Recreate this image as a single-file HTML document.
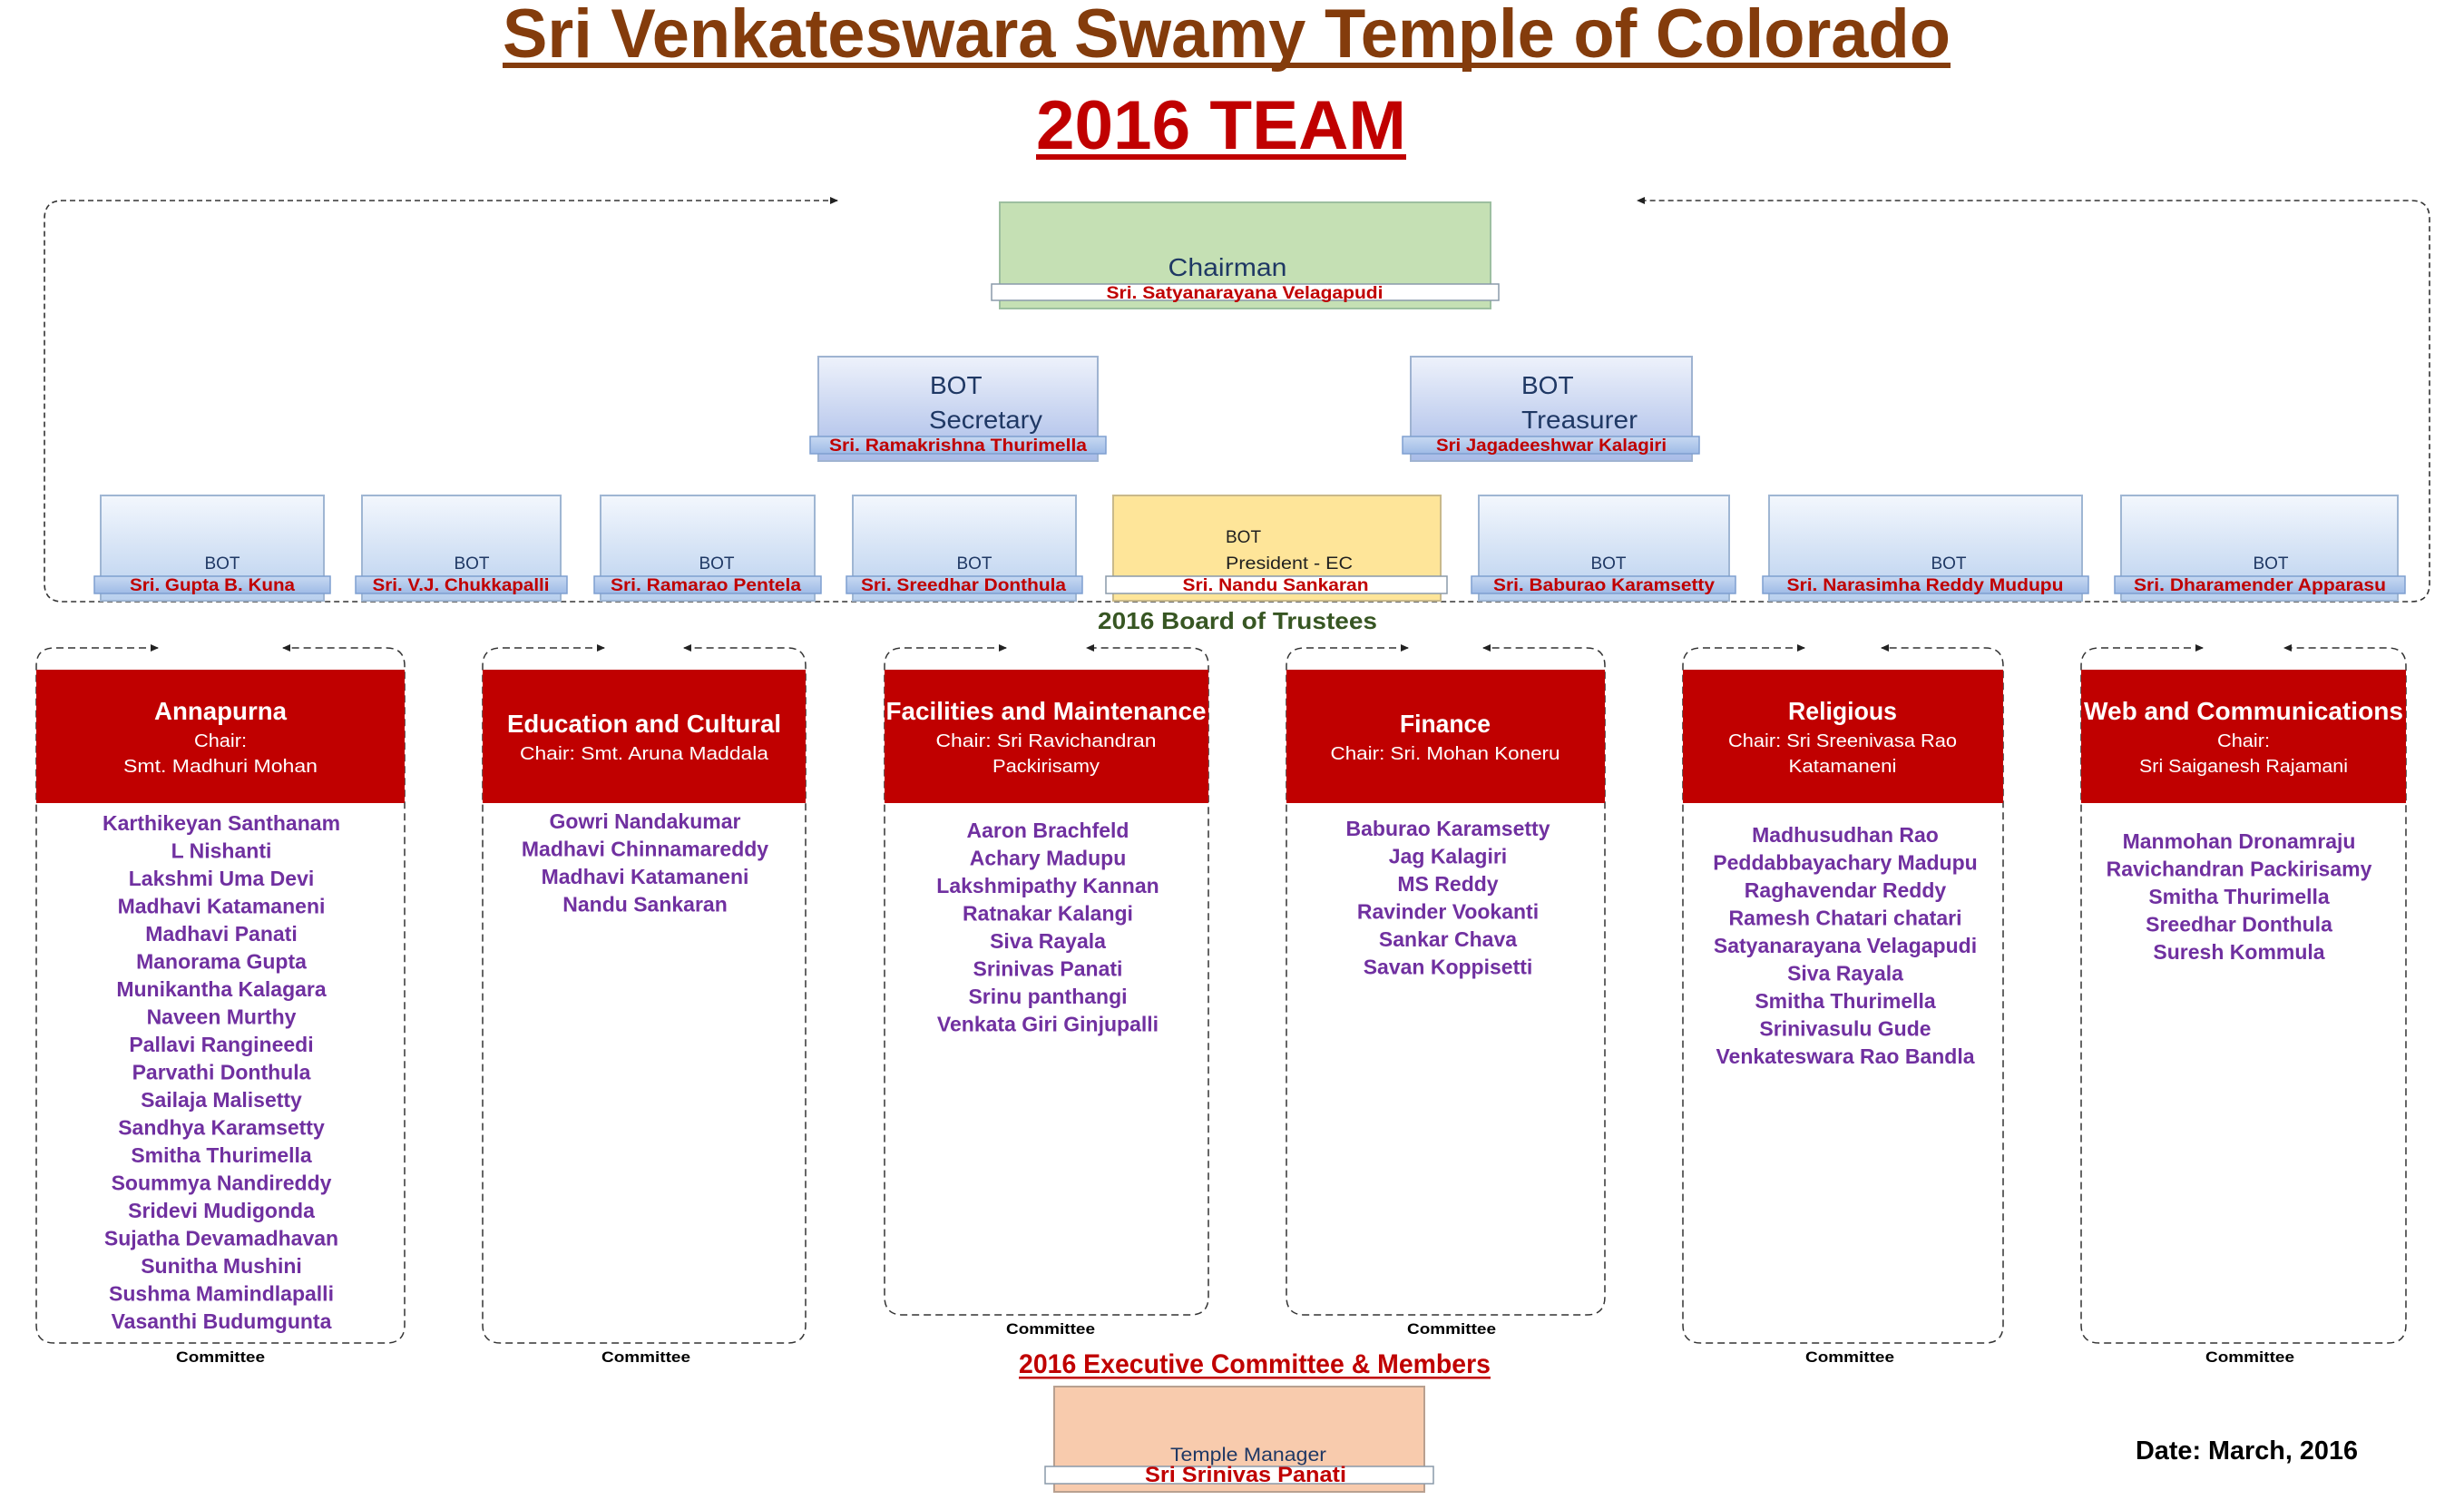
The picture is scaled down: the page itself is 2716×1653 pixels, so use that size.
<!DOCTYPE html>
<html><head><meta charset="utf-8"><style>html,body{margin:0;padding:0;background:#fff}svg{display:block}</style></head>
<body>
<svg width="2716" height="1653" viewBox="0 0 2716 1653" xmlns="http://www.w3.org/2000/svg" font-family="Liberation Sans, sans-serif" font-weight="bold">
<defs>
<linearGradient id="gb" x1="0" y1="0" x2="0" y2="1"><stop offset="0" stop-color="#f3f7fd"/><stop offset="1" stop-color="#b9d0ee"/></linearGradient>
<linearGradient id="gs" x1="0" y1="0" x2="0" y2="1"><stop offset="0" stop-color="#eef2fb"/><stop offset="1" stop-color="#a9bce8"/></linearGradient>
<linearGradient id="gbar" x1="0" y1="0" x2="0" y2="1"><stop offset="0" stop-color="#c7d9f2"/><stop offset="1" stop-color="#9fbbe6"/></linearGradient>
<marker id="ar" markerWidth="10" markerHeight="10" refX="8" refY="5" orient="auto" markerUnits="userSpaceOnUse"><path d="M0,1 L9,5 L0,9 z" fill="#222"/></marker>
</defs>

<text x="554" y="63" font-size="76" fill="#843c0c" textLength="1596" lengthAdjust="spacingAndGlyphs">Sri Venkateswara Swamy Temple of Colorado</text>
<rect x="554" y="69" width="1596" height="6" fill="#843c0c"/>
<text x="1142" y="164" font-size="76" fill="#c00000" textLength="408" lengthAdjust="spacingAndGlyphs">2016 TEAM</text>
<rect x="1142" y="170" width="408" height="6" fill="#c00000"/>

<path d="M923,221 L69,221 Q49,221 49,241 L49,643 Q49,663 69,663 L2658,663 Q2678,663 2678,643 L2678,241 Q2678,221 2658,221 L1805,221" fill="none" stroke="#333" stroke-width="1.6" stroke-dasharray="6,4" marker-end="url(#ar)"/>
<path d="M69,221 L923,221" fill="none" stroke="none" marker-end="url(#ar)"/>

<rect x="1102" y="223" width="541" height="117" fill="#c5e0b4" stroke="#9dbfa0" stroke-width="2"/>
<text x="1353" y="304" font-size="28" font-weight="normal" fill="#1f3864" text-anchor="middle" textLength="131" lengthAdjust="spacingAndGlyphs">Chairman</text>
<rect x="1093" y="313" width="559" height="18" fill="#fff" stroke="#8a9aaa" stroke-width="1.5"/>
<text x="1372" y="329" font-size="19" fill="#c00000" text-anchor="middle" textLength="305" lengthAdjust="spacingAndGlyphs">Sri. Satyanarayana Velagapudi</text>

<rect x="902" y="393" width="308" height="115" fill="url(#gs)" stroke="#9fb3d1" stroke-width="2"/>
<text x="1025" y="434" font-size="28" font-weight="normal" fill="#1f3864">BOT</text>
<text x="1024" y="472" font-size="28" font-weight="normal" fill="#1f3864" textLength="125" lengthAdjust="spacingAndGlyphs">Secretary</text>
<rect x="893" y="481" width="326" height="19" fill="url(#gbar)" stroke="#7f9fd0" stroke-width="1.5"/>
<text x="1056" y="497" font-size="19" fill="#c00000" text-anchor="middle" textLength="284" lengthAdjust="spacingAndGlyphs">Sri. Ramakrishna Thurimella</text>

<rect x="1555" y="393" width="310" height="115" fill="url(#gs)" stroke="#9fb3d1" stroke-width="2"/>
<text x="1677" y="434" font-size="28" font-weight="normal" fill="#1f3864">BOT</text>
<text x="1677" y="472" font-size="28" font-weight="normal" fill="#1f3864" textLength="128" lengthAdjust="spacingAndGlyphs">Treasurer</text>
<rect x="1546" y="481" width="327" height="19" fill="url(#gbar)" stroke="#7f9fd0" stroke-width="1.5"/>
<text x="1710" y="497" font-size="19" fill="#c00000" text-anchor="middle" textLength="254" lengthAdjust="spacingAndGlyphs">Sri Jagadeeshwar Kalagiri</text>

<g font-size="19">
<rect x="111" y="546" width="246" height="116" fill="url(#gb)" stroke="#9fb6d3" stroke-width="2"/>
<text x="245" y="627" font-weight="normal" fill="#1f3864" text-anchor="middle">BOT</text>
<rect x="104" y="635" width="260" height="19" fill="url(#gbar)" stroke="#7f9fd0" stroke-width="1.5"/>
<text x="234" y="651" fill="#c00000" text-anchor="middle" textLength="182" lengthAdjust="spacingAndGlyphs">Sri. Gupta B. Kuna</text>

<rect x="399" y="546" width="219" height="116" fill="url(#gb)" stroke="#9fb6d3" stroke-width="2"/>
<text x="520" y="627" font-weight="normal" fill="#1f3864" text-anchor="middle">BOT</text>
<rect x="392" y="635" width="233" height="19" fill="url(#gbar)" stroke="#7f9fd0" stroke-width="1.5"/>
<text x="508" y="651" fill="#c00000" text-anchor="middle" textLength="195" lengthAdjust="spacingAndGlyphs">Sri. V.J. Chukkapalli</text>

<rect x="662" y="546" width="236" height="116" fill="url(#gb)" stroke="#9fb6d3" stroke-width="2"/>
<text x="790" y="627" font-weight="normal" fill="#1f3864" text-anchor="middle">BOT</text>
<rect x="655" y="635" width="250" height="19" fill="url(#gbar)" stroke="#7f9fd0" stroke-width="1.5"/>
<text x="778" y="651" fill="#c00000" text-anchor="middle" textLength="210" lengthAdjust="spacingAndGlyphs">Sri. Ramarao Pentela</text>

<rect x="940" y="546" width="246" height="116" fill="url(#gb)" stroke="#9fb6d3" stroke-width="2"/>
<text x="1074" y="627" font-weight="normal" fill="#1f3864" text-anchor="middle">BOT</text>
<rect x="933" y="635" width="260" height="19" fill="url(#gbar)" stroke="#7f9fd0" stroke-width="1.5"/>
<text x="1062" y="651" fill="#c00000" text-anchor="middle" textLength="226" lengthAdjust="spacingAndGlyphs">Sri. Sreedhar Donthula</text>

<rect x="1227" y="546" width="361" height="116" fill="#fee599" stroke="#c9b98a" stroke-width="2"/>
<text x="1351" y="598" font-weight="normal" fill="#1f1f1f">BOT</text>
<text x="1351" y="627" font-weight="normal" fill="#1f1f1f" textLength="140" lengthAdjust="spacingAndGlyphs">President - EC</text>
<rect x="1219" y="635" width="376" height="19" fill="#fff" stroke="#8a9aaa" stroke-width="1.5"/>
<text x="1406" y="651" fill="#c00000" text-anchor="middle" textLength="205" lengthAdjust="spacingAndGlyphs">Sri. Nandu Sankaran</text>

<rect x="1630" y="546" width="276" height="116" fill="url(#gb)" stroke="#9fb6d3" stroke-width="2"/>
<text x="1773" y="627" font-weight="normal" fill="#1f3864" text-anchor="middle">BOT</text>
<rect x="1622" y="635" width="291" height="19" fill="url(#gbar)" stroke="#7f9fd0" stroke-width="1.5"/>
<text x="1768" y="651" fill="#c00000" text-anchor="middle" textLength="244" lengthAdjust="spacingAndGlyphs">Sri. Baburao Karamsetty</text>

<rect x="1950" y="546" width="345" height="116" fill="url(#gb)" stroke="#9fb6d3" stroke-width="2"/>
<text x="2148" y="627" font-weight="normal" fill="#1f3864" text-anchor="middle">BOT</text>
<rect x="1943" y="635" width="359" height="19" fill="url(#gbar)" stroke="#7f9fd0" stroke-width="1.5"/>
<text x="2122" y="651" fill="#c00000" text-anchor="middle" textLength="305" lengthAdjust="spacingAndGlyphs">Sri. Narasimha Reddy Mudupu</text>

<rect x="2338" y="546" width="305" height="116" fill="url(#gb)" stroke="#9fb6d3" stroke-width="2"/>
<text x="2503" y="627" font-weight="normal" fill="#1f3864" text-anchor="middle">BOT</text>
<rect x="2331" y="635" width="320" height="19" fill="url(#gbar)" stroke="#7f9fd0" stroke-width="1.5"/>
<text x="2491" y="651" fill="#c00000" text-anchor="middle" textLength="278" lengthAdjust="spacingAndGlyphs">Sri. Dharamender Apparasu</text>
</g>

<text x="1364" y="693" font-size="26" fill="#375623" text-anchor="middle" textLength="308" lengthAdjust="spacingAndGlyphs">2016 Board of Trustees</text>

<g fill="none" stroke="#333" stroke-width="1.5" stroke-dasharray="8,5">
<path d="M174,714 L60,714 Q40,714 40,734 L40,1460 Q40,1480 60,1480 L426,1480 Q446,1480 446,1460 L446,734 Q446,714 426,714 L312,714" marker-end="url(#ar)"/>
<path d="M666,714 L552,714 Q532,714 532,734 L532,1460 Q532,1480 552,1480 L868,1480 Q888,1480 888,1460 L888,734 Q888,714 868,714 L754,714" marker-end="url(#ar)"/>
<path d="M1109,714 L995,714 Q975,714 975,734 L975,1429 Q975,1449 995,1449 L1312,1449 Q1332,1449 1332,1429 L1332,734 Q1332,714 1312,714 L1198,714" marker-end="url(#ar)"/>
<path d="M1552,714 L1438,714 Q1418,714 1418,734 L1418,1429 Q1418,1449 1438,1449 L1749,1449 Q1769,1449 1769,1429 L1769,734 Q1769,714 1749,714 L1635,714" marker-end="url(#ar)"/>
<path d="M1989,714 L1875,714 Q1855,714 1855,734 L1855,1460 Q1855,1480 1875,1480 L2188,1480 Q2208,1480 2208,1460 L2208,734 Q2208,714 2188,714 L2074,714" marker-end="url(#ar)"/>
<path d="M2428,714 L2314,714 Q2294,714 2294,734 L2294,1460 Q2294,1480 2314,1480 L2632,1480 Q2652,1480 2652,1460 L2652,734 Q2652,714 2632,714 L2518,714" marker-end="url(#ar)"/>
</g>
<g stroke="none" fill="none">
<path d="M60,714 L174,714" marker-end="url(#ar)"/>
<path d="M552,714 L666,714" marker-end="url(#ar)"/>
<path d="M995,714 L1109,714" marker-end="url(#ar)"/>
<path d="M1438,714 L1552,714" marker-end="url(#ar)"/>
<path d="M1875,714 L1989,714" marker-end="url(#ar)"/>
<path d="M2314,714 L2428,714" marker-end="url(#ar)"/>
</g>

<g fill="#c00000">
<rect x="40" y="738" width="406" height="147"/>
<rect x="532" y="738" width="356" height="147"/>
<rect x="975" y="738" width="357" height="147"/>
<rect x="1418" y="738" width="351" height="147"/>
<rect x="1855" y="738" width="353" height="147"/>
<rect x="2294" y="738" width="358" height="147"/>
</g>
<g fill="#fff" text-anchor="middle">
<text x="243" y="793" font-size="28" textLength="146" lengthAdjust="spacingAndGlyphs">Annapurna</text>
<text x="243" y="823" font-size="20" font-weight="normal" textLength="58" lengthAdjust="spacingAndGlyphs">Chair:</text>
<text x="243" y="851" font-size="20" font-weight="normal" textLength="214" lengthAdjust="spacingAndGlyphs">Smt. Madhuri Mohan</text>

<text x="710" y="807" font-size="28" textLength="302" lengthAdjust="spacingAndGlyphs">Education and Cultural</text>
<text x="710" y="837" font-size="20" font-weight="normal" textLength="274" lengthAdjust="spacingAndGlyphs">Chair:  Smt. Aruna Maddala</text>

<text x="1153" y="793" font-size="28" textLength="353" lengthAdjust="spacingAndGlyphs">Facilities and Maintenance</text>
<text x="1153" y="823" font-size="20" font-weight="normal" textLength="243" lengthAdjust="spacingAndGlyphs">Chair:   Sri Ravichandran</text>
<text x="1153" y="851" font-size="20" font-weight="normal" textLength="118" lengthAdjust="spacingAndGlyphs">Packirisamy</text>

<text x="1593" y="807" font-size="28" textLength="100" lengthAdjust="spacingAndGlyphs">Finance</text>
<text x="1593" y="837" font-size="20" font-weight="normal" textLength="253" lengthAdjust="spacingAndGlyphs">Chair:  Sri. Mohan Koneru</text>

<text x="2031" y="793" font-size="28" textLength="120" lengthAdjust="spacingAndGlyphs">Religious</text>
<text x="2031" y="823" font-size="20" font-weight="normal" textLength="252" lengthAdjust="spacingAndGlyphs">Chair:  Sri Sreenivasa Rao</text>
<text x="2031" y="851" font-size="20" font-weight="normal" textLength="119" lengthAdjust="spacingAndGlyphs">Katamaneni</text>

<text x="2473" y="793" font-size="28" textLength="352" lengthAdjust="spacingAndGlyphs">Web and Communications</text>
<text x="2473" y="823" font-size="20" font-weight="normal" textLength="58" lengthAdjust="spacingAndGlyphs">Chair:</text>
<text x="2473" y="851" font-size="20" font-weight="normal" textLength="230" lengthAdjust="spacingAndGlyphs">Sri Saiganesh Rajamani</text>
</g>

<g fill="#7030a0" font-size="23" text-anchor="middle">
<text x="244" y="915">Karthikeyan Santhanam</text>
<text x="244" y="945.5">L Nishanti</text>
<text x="244" y="976">Lakshmi Uma Devi</text>
<text x="244" y="1006.5">Madhavi Katamaneni</text>
<text x="244" y="1037">Madhavi Panati</text>
<text x="244" y="1067.5">Manorama Gupta</text>
<text x="244" y="1098">Munikantha Kalagara</text>
<text x="244" y="1128.5">Naveen Murthy</text>
<text x="244" y="1159">Pallavi Rangineedi</text>
<text x="244" y="1189.5">Parvathi Donthula</text>
<text x="244" y="1220">Sailaja Malisetty</text>
<text x="244" y="1250.5">Sandhya Karamsetty</text>
<text x="244" y="1281">Smitha Thurimella</text>
<text x="244" y="1311.5">Soummya Nandireddy</text>
<text x="244" y="1342">Sridevi Mudigonda</text>
<text x="244" y="1372.5">Sujatha Devamadhavan</text>
<text x="244" y="1403">Sunitha Mushini</text>
<text x="244" y="1433.5">Sushma Mamindlapalli</text>
<text x="244" y="1464">Vasanthi Budumgunta</text>

<text x="711" y="913">Gowri Nandakumar</text>
<text x="711" y="943.5">Madhavi Chinnamareddy</text>
<text x="711" y="974">Madhavi Katamaneni</text>
<text x="711" y="1004.5">Nandu Sankaran</text>

<text x="1155" y="923">Aaron Brachfeld</text>
<text x="1155" y="953.5">Achary Madupu</text>
<text x="1155" y="984">Lakshmipathy Kannan</text>
<text x="1155" y="1014.5">Ratnakar Kalangi</text>
<text x="1155" y="1045">Siva Rayala</text>
<text x="1155" y="1075.5">Srinivas Panati</text>
<text x="1155" y="1106">Srinu panthangi</text>
<text x="1155" y="1136.5">Venkata Giri Ginjupalli</text>

<text x="1596" y="921">Baburao Karamsetty</text>
<text x="1596" y="951.5">Jag Kalagiri</text>
<text x="1596" y="982">MS Reddy</text>
<text x="1596" y="1012.5">Ravinder Vookanti</text>
<text x="1596" y="1043">Sankar Chava</text>
<text x="1596" y="1073.5">Savan Koppisetti</text>

<text x="2034" y="928">Madhusudhan Rao</text>
<text x="2034" y="958.5">Peddabbayachary Madupu</text>
<text x="2034" y="989">Raghavendar Reddy</text>
<text x="2034" y="1019.5">Ramesh Chatari chatari</text>
<text x="2034" y="1050">Satyanarayana Velagapudi</text>
<text x="2034" y="1080.5">Siva Rayala</text>
<text x="2034" y="1111">Smitha Thurimella</text>
<text x="2034" y="1141.5">Srinivasulu Gude</text>
<text x="2034" y="1172">Venkateswara Rao Bandla</text>

<text x="2468" y="935">Manmohan Dronamraju</text>
<text x="2468" y="965.5">Ravichandran Packirisamy</text>
<text x="2468" y="996">Smitha Thurimella</text>
<text x="2468" y="1026.5">Sreedhar Donthula</text>
<text x="2468" y="1057">Suresh Kommula</text>
</g>

<g font-size="17" fill="#000" text-anchor="middle">
<text x="243" y="1501" textLength="98" lengthAdjust="spacingAndGlyphs">Committee</text>
<text x="712" y="1501" textLength="98" lengthAdjust="spacingAndGlyphs">Committee</text>
<text x="1158" y="1470" textLength="98" lengthAdjust="spacingAndGlyphs">Committee</text>
<text x="1600" y="1470" textLength="98" lengthAdjust="spacingAndGlyphs">Committee</text>
<text x="2039" y="1501" textLength="98" lengthAdjust="spacingAndGlyphs">Committee</text>
<text x="2480" y="1501" textLength="98" lengthAdjust="spacingAndGlyphs">Committee</text>
</g>

<text x="1123" y="1513" font-size="30" fill="#c00000" textLength="520" lengthAdjust="spacingAndGlyphs">2016 Executive Committee &amp; Members</text>
<rect x="1123" y="1517" width="520" height="2.5" fill="#c00000"/>

<rect x="1162" y="1528" width="408" height="116" fill="#f8cbad" stroke="#b8a090" stroke-width="2"/>
<text x="1376" y="1610" font-size="21" font-weight="normal" fill="#1f3864" text-anchor="middle" textLength="172" lengthAdjust="spacingAndGlyphs">Temple Manager</text>
<rect x="1152" y="1616" width="428" height="19" fill="#fff" stroke="#8a9aaa" stroke-width="1.5"/>
<text x="1373" y="1633" font-size="24" fill="#c00000" text-anchor="middle" textLength="222" lengthAdjust="spacingAndGlyphs">Sri Srinivas Panati</text>

<text x="2354" y="1608" font-size="29" fill="#000" textLength="245" lengthAdjust="spacingAndGlyphs">Date: March, 2016</text>
</svg>
</body></html>
